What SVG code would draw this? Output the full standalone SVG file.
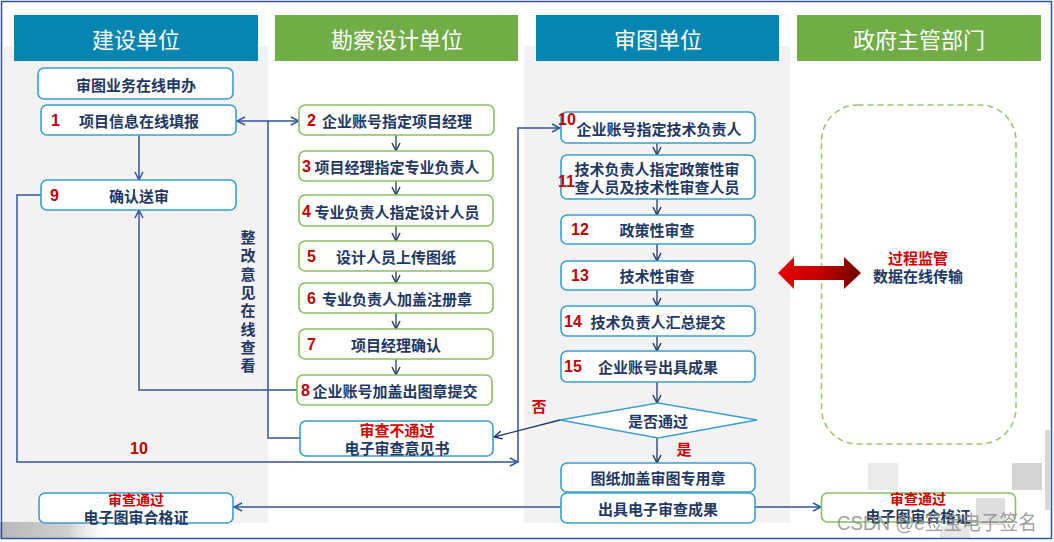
<svg xmlns="http://www.w3.org/2000/svg" width="1054" height="542" viewBox="0 0 1054 542">
<defs>
<style>
.bg{fill:#F2F2F2}
.hb{fill:#0785B1}
.hg{fill:#70AD47}
.ht{fill:#FFFFFF;font-family:"Noto Sans CJK SC","Noto Sans",sans-serif;font-size:22px;text-anchor:middle;dominant-baseline:central}
.nb{fill:#FFFFFF;stroke:#3A9FCB;stroke-width:1.6}
.ng{fill:#FFFFFF;stroke:#86C160;stroke-width:1.6}
.t{fill:#1F3864;font-family:"Noto Sans CJK SC","Noto Sans",sans-serif;font-size:15px;font-weight:bold;text-anchor:middle;dominant-baseline:central}
.r{fill:#D40000;font-family:"Noto Sans CJK SC","Noto Sans",sans-serif;font-size:15px;font-weight:bold;text-anchor:middle;dominant-baseline:central}
.n{fill:#C00000;font-family:"Liberation Sans",Arial,sans-serif;font-size:16px;font-weight:bold;dominant-baseline:central}
.c{fill:none;stroke:#2F5597;stroke-width:1.5}
.s{fill:none;stroke:#1F3864;stroke-width:1.3}
.sm{font-size:14px}
</style>
<marker id="ah" viewBox="0 0 10 10" refX="9" refY="5" markerWidth="10" markerHeight="10" markerUnits="userSpaceOnUse" orient="auto-start-reverse">
<path d="M1,1 L9,5 L1,9" fill="none" stroke="#2F5597" stroke-width="1.5"/>
</marker>
<marker id="as" viewBox="0 0 10 10" refX="9" refY="5" markerWidth="10" markerHeight="10" markerUnits="userSpaceOnUse" orient="auto">
<path d="M1,1 L9,5 L1,9" fill="none" stroke="#1F3864" stroke-width="1.4"/>
</marker>
<linearGradient id="rg" x1="0" y1="0" x2="1" y2="0">
<stop offset="0" stop-color="#E60000"/>
<stop offset="0.45" stop-color="#C80000"/>
<stop offset="1" stop-color="#700000"/>
</linearGradient>
<linearGradient id="blur" x1="0" y1="0" x2="1" y2="0">
<stop offset="0" stop-color="#B8B8B8"/>
<stop offset="0.6" stop-color="#D0D0D0"/>
<stop offset="1" stop-color="#FFFFFF" stop-opacity="0"/>
</linearGradient>
</defs>

<rect x="0" y="0" width="1054" height="542" fill="#FFFFFF"/>

<g id="lanes">
<rect class="bg" x="3" y="46" width="265" height="477"/>
<rect class="bg" x="524" y="46" width="266" height="477"/>
<rect class="hb" x="14" y="15" width="244" height="46"/>
<text class="ht" x="136" y="38">建设单位</text>
<rect class="hg" x="275" y="15" width="243" height="46"/>
<text class="ht" x="397" y="38">勘察设计单位</text>
<rect class="hb" x="536" y="15" width="243" height="46"/>
<text class="ht" x="658" y="38">审图单位</text>
<rect class="hg" x="797" y="15" width="244" height="46"/>
<text class="ht" x="919" y="38">政府主管部门</text>
</g>

<g id="decor">
<rect x="0" y="522" width="115" height="17" fill="url(#blur)"/>
<rect x="868" y="463" width="30" height="27" fill="#EBEBEB"/>
<rect x="1012" y="463" width="30" height="27" fill="#D4D4D4"/>
<rect x="1045" y="430" width="5" height="80" fill="#D8D8D8"/>
</g>

<g id="connectors">
<path class="c" d="M237,121 L299,121" marker-start="url(#ah)" marker-end="url(#ah)"/>
<path class="c" d="M300,438 L268,438 L268,121"/>
<path class="c" d="M139,135 L139,180" marker-end="url(#ah)"/>
<path class="c" d="M297,390 L139,390 L139,210" marker-end="url(#ah)"/>
<path class="c" d="M41,195 L17,195 L17,462 L518,462" marker-end="url(#ah)"/>
<path class="c" d="M518,462 L518,128 L560,128" marker-end="url(#ah)"/>
<path class="s" d="M560,420 L494,437" marker-end="url(#as)"/>
<path class="c" d="M561,507 L234,507" marker-end="url(#ah)"/>
<path class="c" d="M755,507 L821,507" marker-end="url(#ah)"/>
<path class="s" d="M396,135 L396,151" marker-end="url(#as)"/>
<path class="s" d="M396,181 L396,195" marker-end="url(#as)"/>
<path class="s" d="M396,226 L396,241" marker-end="url(#as)"/>
<path class="s" d="M396,271 L396,283" marker-end="url(#as)"/>
<path class="s" d="M396,313 L396,329" marker-end="url(#as)"/>
<path class="s" d="M396,359 L396,375" marker-end="url(#as)"/>
<path class="s" d="M657,143 L657,155" marker-end="url(#as)"/>
<path class="s" d="M657,199 L657,215" marker-end="url(#as)"/>
<path class="s" d="M657,244 L657,261" marker-end="url(#as)"/>
<path class="s" d="M657,290 L657,306" marker-end="url(#as)"/>
<path class="s" d="M657,336 L657,351" marker-end="url(#as)"/>
<path class="s" d="M657,382 L657,403" marker-end="url(#as)"/>
<path class="s" d="M657,438 L657,463" marker-end="url(#as)"/>
<text class="n" x="139" y="448" text-anchor="middle">10</text>
<text class="r" x="539" y="405" font-size="16">否</text>
<text class="r" x="684" y="448" font-size="16">是</text>
<text class="t" x="248" y="236"><tspan x="248" y="236">整</tspan><tspan x="248" y="254.3">改</tspan><tspan x="248" y="272.6">意</tspan><tspan x="248" y="290.9">见</tspan><tspan x="248" y="309.2">在</tspan><tspan x="248" y="327.5">线</tspan><tspan x="248" y="345.8">查</tspan><tspan x="248" y="364.1">看</tspan></text>
</g>

<g id="node-apply">
<rect class="nb" x="38" y="68" width="195" height="31" rx="6"/>
<text class="t" x="136" y="84">审图业务在线申办</text>
</g>
<g id="node-1">
<rect class="nb" x="41" y="105" width="195" height="30" rx="6"/>
<text class="n" x="51" y="120">1</text>
<text class="t" x="139" y="120">项目信息在线填报</text>
</g>
<g id="node-9">
<rect class="nb" x="41" y="180" width="195" height="30" rx="6"/>
<text class="n" x="50" y="195">9</text>
<text class="t" x="139" y="195">确认送审</text>
</g>
<g id="node-pass-left">
<rect class="nb" x="39" y="493" width="194" height="30" rx="6"/>
<text class="r sm" x="136" y="499">审查通过</text>
<text class="t" x="136" y="516.5">电子图审合格证</text>
</g>

<g id="node-2">
<rect class="ng" x="299" y="105" width="195" height="30" rx="6"/>
<text class="n" x="307" y="120">2</text>
<text class="t" x="397" y="120">企业账号指定项目经理</text>
</g>
<g id="node-3">
<rect class="ng" x="299" y="151" width="194" height="30" rx="6"/>
<text class="n" x="302" y="166">3</text>
<text class="t" x="397" y="166">项目经理指定专业负责人</text>
</g>
<g id="node-4">
<rect class="ng" x="299" y="195" width="194" height="31" rx="6"/>
<text class="n" x="302" y="211">4</text>
<text class="t" x="397" y="211">专业负责人指定设计人员</text>
</g>
<g id="node-5">
<rect class="ng" x="299" y="241" width="194" height="30" rx="6"/>
<text class="n" x="307" y="256">5</text>
<text class="t" x="396" y="256">设计人员上传图纸</text>
</g>
<g id="node-6">
<rect class="ng" x="299" y="283" width="194" height="30" rx="6"/>
<text class="n" x="307" y="298">6</text>
<text class="t" x="397" y="298">专业负责人加盖注册章</text>
</g>
<g id="node-7">
<rect class="ng" x="299" y="329" width="194" height="30" rx="6"/>
<text class="n" x="307" y="344">7</text>
<text class="t" x="396" y="344">项目经理确认</text>
</g>
<g id="node-8">
<rect class="ng" x="297" y="375" width="195" height="30" rx="6"/>
<text class="n" x="301" y="390">8</text>
<text class="t" x="395" y="390">企业账号加盖出图章提交</text>
</g>
<g id="node-fail">
<rect class="nb" x="300" y="421" width="193" height="35" rx="6"/>
<text class="r" x="397" y="429">审查不通过</text>
<text class="t" x="397" y="447">电子审查意见书</text>
</g>

<g id="node-10">
<rect class="nb" x="561" y="112" width="194" height="31" rx="6"/>
<text class="n" x="558" y="119">10</text>
<text class="t" x="659" y="128">企业账号指定技术负责人</text>
</g>
<g id="node-11">
<rect class="nb" x="561" y="155" width="194" height="44" rx="6"/>
<text class="n" x="558" y="181">11</text>
<text class="t" x="657" y="168">技术负责人指定政策性审</text>
<text class="t" x="657" y="186">查人员及技术性审查人员</text>
</g>
<g id="node-12">
<rect class="nb" x="561" y="215" width="194" height="29" rx="6"/>
<text class="n" x="571" y="229">12</text>
<text class="t" x="657" y="229">政策性审查</text>
</g>
<g id="node-13">
<rect class="nb" x="561" y="261" width="194" height="29" rx="6"/>
<text class="n" x="571" y="275">13</text>
<text class="t" x="657" y="275">技术性审查</text>
</g>
<g id="node-14">
<rect class="nb" x="561" y="306" width="194" height="30" rx="6"/>
<text class="n" x="564" y="321">14</text>
<text class="t" x="658" y="321">技术负责人汇总提交</text>
</g>
<g id="node-15">
<rect class="nb" x="561" y="351" width="194" height="31" rx="6"/>
<text class="n" x="564" y="366">15</text>
<text class="t" x="658" y="366">企业账号出具成果</text>
</g>
<g id="node-decision">
<polygon class="nb" points="560,420 658,403 757,420 658,438"/>
<text class="t" x="658" y="420">是否通过</text>
</g>
<g id="node-stamp">
<rect class="nb" x="561" y="463" width="194" height="29" rx="6"/>
<text class="t" x="658" y="477">图纸加盖审图专用章</text>
</g>
<g id="node-result">
<rect class="nb" x="561" y="493" width="194" height="30" rx="6"/>
<text class="t" x="658" y="508">出具电子审查成果</text>
</g>

<g id="node-supervision">
<rect x="821.5" y="105" width="194.5" height="339" rx="36" fill="none" stroke="#92C86A" stroke-width="1.5" stroke-dasharray="6,4"/>
<polygon points="778,273 794,257 794,266 844,266 844,257 861,273 844,289 844,280 794,280 794,289" fill="url(#rg)"/>
<text class="r" x="918" y="257">过程监管</text>
<text class="t" x="918" y="275">数据在线传输</text>
</g>
<g id="node-pass-right">
<rect class="ng" x="821.5" y="493" width="194" height="29" rx="6"/>
<text class="r sm" x="918" y="498">审查通过</text>
<text class="t" x="918" y="515">电子图审合格证</text>
</g>

<g id="overlay">
<rect x="976" y="498" width="29" height="27" fill="#BDBDBD" opacity="0.5"/>
<rect x="940" y="526" width="30" height="13" fill="#D8D8D8" opacity="0.6"/>
<text x="837" y="530" fill="#8E8E8E" fill-opacity="0.85" font-family="'Liberation Sans','Noto Sans CJK SC',sans-serif" font-size="20" textLength="200" lengthAdjust="spacingAndGlyphs">CSDN @e签宝电子签名</text>
</g>

<rect x="1.5" y="1.5" width="1050" height="537" fill="none" stroke="#2F5597" stroke-width="1.5"/>
</svg>
